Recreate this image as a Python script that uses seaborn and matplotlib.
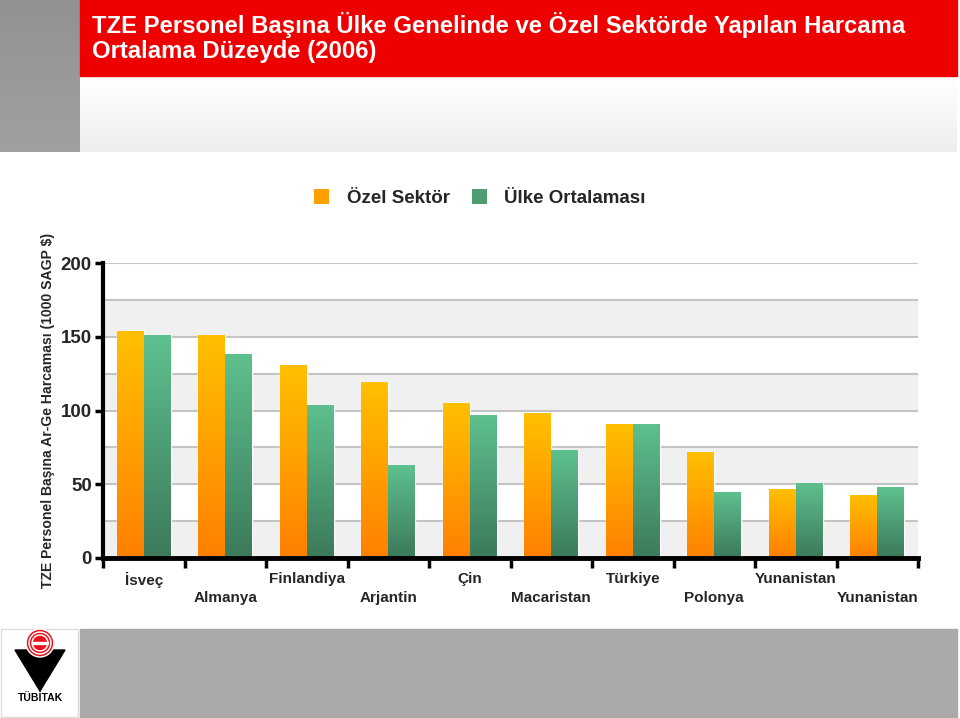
import numpy as np
import pandas as pd
import seaborn as sns
import matplotlib.pyplot as plt
from matplotlib.patches import Rectangle, Patch, Polygon, Circle
from matplotlib.colors import LinearSegmentedColormap

ulkeler = ['İsveç', 'Almanya', 'Finlandiya', 'Arjantin', 'Çin',
           'Macaristan', 'Türkiye', 'Polonya', 'Yunanistan', 'Yunanistan']
ozel_sektor = [154, 151, 131, 119, 105, 98, 91, 72, 47, 43]
ulke_ortalamasi = [151, 138, 104, 63, 97, 73, 91, 45, 51, 48]
seriler = ['Özel Sektör', 'Ülke Ortalaması']
y_ticks = [0, 50, 100, 150, 200]

baslik = 'TZE Personel Başına Ülke Genelinde ve Özel Sektörde Yapılan Harcama\nOrtalama Düzeyde (2006)'
y_etiket = 'TZE Personel Başına Ar-Ge Harcaması (1000 SAGP $)'

# long table; "sira" keeps the two Yunanistan entries apart
sira = [str(i) for i in range(len(ulkeler))]
df = pd.DataFrame({
    'sira': sira * 2,
    'seri': [seriler[0]] * len(ulkeler) + [seriler[1]] * len(ulkeler),
    'deger': ozel_sektor + ulke_ortalamasi,
})

sns.set_theme(style='white')
plt.rcParams['font.family'] = ['Liberation Sans', 'DejaVu Sans']

fig = plt.figure(figsize=(9.6, 7.18), dpi=100)
fig.patch.set_facecolor('white')

# slide background drawn in pixel coordinates
bg = fig.add_axes([0, 0, 1, 1], zorder=-10)
bg.axis('off')
bg.imshow(np.linspace(0, 1, 50).reshape(-1, 1), extent=[80, 957, 152, 76],
          cmap=LinearSegmentedColormap.from_list('u', ['#ffffff', '#eeeeee']),
          aspect='auto', zorder=1)
bg.imshow(np.linspace(0, 1, 50).reshape(-1, 1), extent=[0, 80, 152, 0],
          cmap=LinearSegmentedColormap.from_list('g', ['#929292', '#a0a0a0']),
          aspect='auto', zorder=1)
bg.add_patch(Rectangle((80, 0), 877, 76, color='#ee0000', zorder=2))
bg.add_patch(Rectangle((80, 629), 877, 89, color='#aaaaaa', zorder=2))
bg.add_patch(Rectangle((1, 629), 77, 88, facecolor='white', edgecolor='#dddddd', lw=1, zorder=2))
# TUBITAK logo
bg.add_patch(Polygon([[15, 650], [65, 650], [40, 691]], closed=True, color='black', zorder=3))
for r, c in [(14, 'white'), (12.5, '#e8121c'), (11, 'white'), (9.5, '#e8121c'),
             (8, 'white'), (6.5, '#e8121c')]:
    bg.add_patch(Circle((40, 643), r, color=c, zorder=4))
bg.add_patch(Rectangle((32, 642), 16, 2, color='white', zorder=5))
bg.text(40, 698, 'TÜBİTAK', ha='center', va='center', fontsize=7.5,
        fontweight='bold', color='black', zorder=5)
bg.set_xlim(0, 960)
bg.set_ylim(718, 0)

fig.text(92 / 960, 1 - 12 / 718, baslik, color='white', fontsize=17.2,
         fontweight='bold', va='top', ha='left', linespacing=1.12)

ax = fig.add_axes([103 / 960, 1 - 558 / 718, 815 / 960, 295 / 718])
ax.set_facecolor('white')

renkler = {seriler[0]: '#ffa000', seriler[1]: '#4d9d74'}
sns.barplot(data=df, x='sira', y='deger', hue='seri', order=sira,
            hue_order=seriler, palette=renkler, width=0.66, gap=0,
            saturation=1, legend=False, ax=ax, zorder=3)

gradyan = [
    LinearSegmentedColormap.from_list('o', ['#ff8000', '#ffc000']),
    LinearSegmentedColormap.from_list('y', ['#3c7a5a', '#5ec08e']),
]
grad = np.linspace(0, 1, 100).reshape(-1, 1)
for k, cont in enumerate(ax.containers):
    for bar in cont:
        x0, w, h = bar.get_x(), bar.get_width(), bar.get_height()
        im = ax.imshow(grad, extent=[x0, x0 + w, 0, h], origin='lower',
                       cmap=gradyan[k], aspect='auto', zorder=4)
        im.set_clip_path(bar)

# alternating background bands and grid
for lo in range(0, 200, 50):
    ax.axhspan(lo, lo + 25, color='#f0f0f0', zorder=0, lw=0)
for g in range(25, 201, 25):
    ax.axhline(g, color='#c4c4c4', lw=1.5, zorder=1)

ax.set_xlim(-0.5, len(ulkeler) - 0.5)
ax.set_ylim(0, 200)
ax.set_yticks(y_ticks)
ax.set_yticklabels([str(v) for v in y_ticks], fontsize=13.5, fontweight='bold')
ax.set_xticks(np.arange(-0.5, len(ulkeler), 1))
ax.set_xticklabels([])
ax.set_xticks(range(len(ulkeler)), minor=True)
ax.set_xticklabels([u if i % 2 == 0 else '\n' + u for i, u in enumerate(ulkeler)],
                   minor=True, fontsize=11, fontweight='bold', linespacing=1.5)
ax.tick_params(axis='x', which='major', direction='out', length=7, width=2.5,
               color='black', bottom=True)
ax.tick_params(axis='x', which='minor', length=0, pad=10, bottom=True)
ax.tick_params(axis='y', direction='out', length=6, width=2.5, color='black',
               left=True, pad=2)
ax.set_xlabel('')
ax.set_ylabel(y_etiket, fontsize=10.1, fontweight='bold', labelpad=4)
for s in ['top', 'right']:
    ax.spines[s].set_visible(False)
ax.spines['left'].set_linewidth(3)
ax.spines['bottom'].set_linewidth(3.5)
ax.spines['left'].set_color('black')
ax.spines['bottom'].set_color('black')
ax.spines['left'].set_zorder(6)
ax.spines['bottom'].set_zorder(6)

handles = [Patch(facecolor=renkler[s], edgecolor='none', label=s) for s in seriler]
fig.legend(handles=handles, loc='center', bbox_to_anchor=(480 / 960, 1 - 198 / 718),
           ncol=2, frameon=False, handlelength=0.8, handleheight=0.8,
           handletextpad=0.95, columnspacing=1.15,
           prop={'weight': 'bold', 'size': 13.5})

fig.savefig('out.png', dpi=100)
